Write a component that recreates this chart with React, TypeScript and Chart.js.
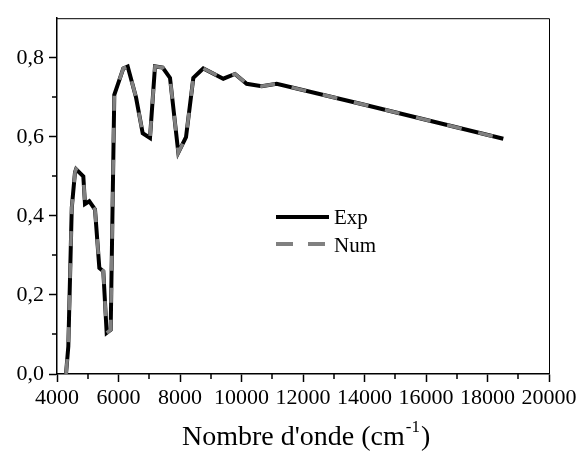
import React, { useEffect, useRef } from "react";
import { Chart, registerables } from "chart.js";
Chart.register(...registerables);

const wavenumber = [4293, 4368, 4480, 4585, 4620, 4856, 4910, 5050, 5236, 5377, 5506, 5615, 5746, 5863, 6156, 6299, 6569, 6787, 7024, 7187, 7437, 7675, 7945, 8195, 8433, 8650, 8758, 9408, 9789, 10168, 10657, 11145, 14000, 18514];
const expValues = [0.0, 0.07, 0.42, 0.51, 0.518, 0.5, 0.43, 0.437, 0.416, 0.268, 0.26, 0.104, 0.112, 0.706, 0.773, 0.778, 0.7, 0.609, 0.597, 0.778, 0.775, 0.749, 0.56, 0.599, 0.749, 0.765, 0.773, 0.747, 0.759, 0.734, 0.728, 0.734, 0.681, 0.595];
const numValues = [0.0, 0.07, 0.42, 0.51, 0.518, 0.5, 0.43, 0.437, 0.416, 0.268, 0.26, 0.104, 0.112, 0.706, 0.773, 0.778, 0.7, 0.609, 0.597, 0.778, 0.775, 0.749, 0.56, 0.599, 0.749, 0.765, 0.773, 0.747, 0.759, 0.734, 0.728, 0.734, 0.681, 0.595];
const xTicks = [4000, 6000, 8000, 10000, 12000, 14000, 16000, 18000, 20000];
const xMinorTicks = [5000, 7000, 9000, 11000, 13000, 15000, 17000, 19000];
const yTicks = [0, 0.2, 0.4, 0.6, 0.8];
const yMinorTicks = [0.1, 0.3, 0.5, 0.7];
const seriesLabels = ["Exp", "Num"];
const axisTitle = "Nombre d'onde (cm";
const axisTitleSup = "-1";
const axisTitleEnd = ")";

const FONT = "'Liberation Serif', 'Times New Roman', serif";

const decorPlugin = {
  id: "decor",
  afterDraw(chart: any) {
    const ctx = chart.ctx;
    const { left, right, top, bottom } = chart.chartArea;
    const xs = chart.scales.x;
    const ys = chart.scales.y;
    ctx.save();
    ctx.strokeStyle = "#000";
    ctx.lineWidth = 1;
    ctx.beginPath();
    ctx.moveTo(left, top + 0.5);
    ctx.lineTo(right + 0.5, top + 0.5);
    ctx.lineTo(right + 0.5, bottom);
    ctx.stroke();
    ctx.lineWidth = 1.5;
    ctx.beginPath();
    xMinorTicks.forEach((v) => {
      const px = Math.round(xs.getPixelForValue(v));
      ctx.moveTo(px, bottom);
      ctx.lineTo(px, bottom + 5);
    });
    yMinorTicks.forEach((v) => {
      const py = Math.round(ys.getPixelForValue(v));
      ctx.moveTo(left, py);
      ctx.lineTo(left - 5, py);
    });
    ctx.stroke();
    const lx0 = 276, lx1 = 329, ly1 = 217, ly2 = 244;
    ctx.lineWidth = 4;
    ctx.lineCap = "butt";
    ctx.strokeStyle = "#000";
    ctx.beginPath();
    ctx.moveTo(lx0, ly1);
    ctx.lineTo(lx1, ly1);
    ctx.stroke();
    ctx.strokeStyle = "#808080";
    ctx.setLineDash([17, 15]);
    ctx.beginPath();
    ctx.moveTo(lx0, ly2);
    ctx.lineTo(lx1, ly2);
    ctx.stroke();
    ctx.setLineDash([]);
    ctx.fillStyle = "#000";
    ctx.font = `21px ${FONT}`;
    ctx.textBaseline = "alphabetic";
    ctx.textAlign = "left";
    ctx.fillText(seriesLabels[0], 334, 224);
    ctx.fillText(seriesLabels[1], 334, 252);
    ctx.font = `28px ${FONT}`;
    const tx = 182, ty = 445;
    ctx.fillText(axisTitle, tx, ty);
    const w1 = ctx.measureText(axisTitle).width;
    ctx.font = `17px ${FONT}`;
    ctx.fillText(axisTitleSup, tx + w1 + 1, ty - 13);
    const w2 = ctx.measureText(axisTitleSup).width;
    ctx.font = `28px ${FONT}`;
    ctx.fillText(axisTitleEnd, tx + w1 + w2 + 2, ty);
    ctx.restore();
  },
};

export default function App() {
  const ref = useRef<HTMLCanvasElement | null>(null);
  useEffect(() => {
    if (!ref.current) return;
    const chart = new Chart(ref.current, {
      type: "line",
      data: {
        datasets: [
          {
            label: seriesLabels[0],
            data: wavenumber.map((x, i) => ({ x, y: expValues[i] })),
            borderColor: "#000",
            borderWidth: 4,
            pointRadius: 0,
            tension: 0,
            order: 2,
          },
          {
            label: seriesLabels[1],
            data: wavenumber.map((x, i) => ({ x, y: numValues[i] })),
            borderColor: "#808080",
            borderWidth: 3.5,
            borderDash: [15, 17],
            pointRadius: 0,
            tension: 0,
            order: 1,
          },
        ],
      },
      options: {
        responsive: false,
        animation: false,
        layout: { padding: { top: 9, right: 38, left: 0, bottom: 0 } },
        plugins: { legend: { display: false }, tooltip: { enabled: false } },
        scales: {
          x: {
            type: "linear",
            min: 4000,
            max: 20000,
            afterBuildTicks: (s: any) => {
              s.ticks = xTicks.map((v) => ({ value: v }));
            },
            afterFit: (s: any) => {
              s.height = 83;
            },
            ticks: {
              color: "#000",
              font: { family: FONT, size: 22 },
              maxRotation: 0,
              autoSkip: false,
              padding: 3,
              callback: (v: any) => String(v),
            },
            grid: {
              drawOnChartArea: false,
              tickLength: 8,
              tickColor: "#000",
              tickWidth: 1.5,
            },
            border: { color: "#000", width: 1.5 },
          },
          y: {
            type: "linear",
            min: 0,
            max: 0.9,
            afterBuildTicks: (s: any) => {
              s.ticks = yTicks.map((v) => ({ value: v }));
            },
            afterFit: (s: any) => {
              s.width = 57;
            },
            ticks: {
              color: "#000",
              font: { family: FONT, size: 22 },
              autoSkip: false,
              padding: 5,
              callback: (v: any) => Number(v).toFixed(1).replace(".", ","),
            },
            grid: {
              drawOnChartArea: false,
              tickLength: 8,
              tickColor: "#000",
              tickWidth: 1.5,
            },
            border: { color: "#000", width: 1.5 },
          },
        },
      },
      plugins: [decorPlugin],
    } as any);
    return () => chart.destroy();
  }, []);
  return (
    <div style={{ position: "absolute", left: 0, top: 0, width: 587, height: 457, background: "#fff" }}>
      <canvas ref={ref} width={587} height={457} style={{ display: "block" }} />
    </div>
  );
}
